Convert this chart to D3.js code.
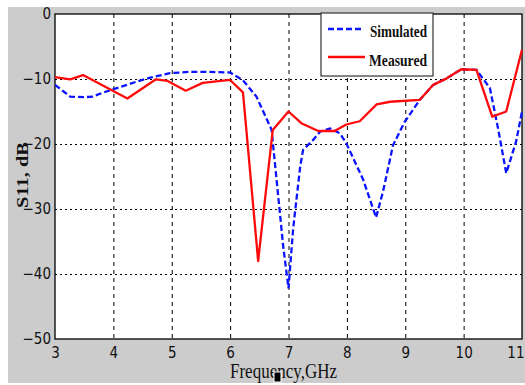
<!DOCTYPE html>
<html><head><meta charset="utf-8">
<script src="https://cdn.jsdelivr.net/npm/d3@7"></script>
<style>body{margin:0;background:#fff}svg{display:block}</style>
</head><body>
<svg id="c" width="525" height="385"></svg>
<script>
const xTicks = [3,4,5,6,7,8,9,10,11];
const yTicks = [0,-10,-20,-30,-40,-50];
const seriesNames = ["Simulated","Measured"];
const freqSim = [3, 3.26, 3.5, 3.65, 3.82, 4.06, 4.4, 4.63, 4.97, 5.31, 5.6, 6.0, 6.22, 6.45, 6.71, 6.91, 7.0, 7.08, 7.2, 7.25, 7.42, 7.54, 7.71, 7.88, 7.99, 8.28, 8.5, 8.62, 8.79, 8.99, 9.25, 9.48, 9.71, 9.96, 10.22, 10.45, 10.59, 10.73, 10.9, 11];
const simulated = [-10.9, -12.7, -12.8, -12.7, -12.1, -11.4, -10.4, -9.8, -9.1, -8.9, -8.9, -9.0, -10.2, -12.7, -17.8, -35.8, -42.2, -33, -23.5, -20.9, -19.4, -18.1, -17.6, -18.35, -19.9, -25.5, -31.3, -27.3, -20.2, -16.6, -13.2, -10.9, -9.9, -8.5, -8.6, -11.4, -17.6, -24.5, -19.6, -15.0];
const freqMeas = [3, 3.26, 3.48, 4.24, 4.73, 4.93, 5.24, 5.53, 6.0, 6.22, 6.48, 6.73, 7.0, 7.22, 7.51, 7.79, 7.99, 8.22, 8.51, 8.74, 9.25, 9.48, 9.71, 9.96, 10.22, 10.49, 10.73, 11];
const measured = [-9.7, -10.05, -9.4, -13.0, -10.05, -10.3, -11.8, -10.6, -10.15, -12.05, -38.0, -17.85, -15.0, -16.8, -18.0, -18.0, -17.0, -16.5, -13.9, -13.5, -13.2, -10.9, -9.9, -8.5, -8.6, -15.8, -15.0, -5.5];

const svg = d3.select("#c");
const L = 55, R = 522, T = 14, B = 339;
const x = d3.scaleLinear().domain([3,11]).range([L,R]);
const y = d3.scaleLinear().domain([-50,0]).range([B,T]);

svg.append("rect").attr("x",8).attr("y",7).attr("width",517).attr("height",376).attr("fill","#cccccc");
svg.append("rect").attr("x",L).attr("y",T).attr("width",R-L).attr("height",B-T).attr("fill","#fff");

// grid
svg.append("g").selectAll("line").data(xTicks.slice(1,-1)).join("line")
  .attr("x1",d=>x(d)+0.5).attr("x2",d=>x(d)+0.5).attr("y1",T).attr("y2",B)
  .attr("stroke","#000").attr("stroke-width",1).attr("stroke-dasharray","4,4");
svg.append("g").selectAll("line").data(yTicks.slice(1,-1)).join("line")
  .attr("y1",d=>y(d)+0.5).attr("y2",d=>y(d)+0.5).attr("x1",L).attr("x2",R)
  .attr("stroke","#000").attr("stroke-width",1).attr("stroke-dasharray","2,3");

// axes
const xa = svg.append("g").attr("transform",`translate(0,${B})`)
  .call(d3.axisBottom(x).tickValues(xTicks).tickSize(0).tickPadding(8).tickFormat(d3.format("d")));
const ya = svg.append("g").attr("transform",`translate(${L},0)`)
  .call(d3.axisLeft(y).tickValues(yTicks).tickSize(0).tickPadding(4).tickFormat(d3.format("d")));
[xa,ya].forEach(g=>{
  g.select(".domain").remove();
  g.selectAll("text").attr("font-family","'Liberation Sans Narrow','DejaVu Sans Condensed',sans-serif")
    .attr("font-size",15).attr("fill","#111");
});
xa.selectAll("text").filter(d=>d===11).attr("text-anchor","end").attr("dx",2);

// frame
svg.append("rect").attr("x",L).attr("y",T).attr("width",R-L).attr("height",B-T)
  .attr("fill","none").attr("stroke","#000").attr("stroke-width",1.3);

svg.append("defs").append("clipPath").attr("id","pc")
  .append("rect").attr("x",L).attr("y",T-2).attr("width",R-L+3).attr("height",B-T+4);

const line = d3.line().x(d=>x(d[0])).y(d=>y(d[1]));
svg.append("path").datum(d3.zip(freqSim,simulated)).attr("d",line)
  .attr("fill","none").attr("stroke","#0a14ff").attr("stroke-width",2.3)
  .attr("stroke-dasharray","6,3").attr("clip-path","url(#pc)");
svg.append("path").datum(d3.zip(freqMeas,measured)).attr("d",line)
  .attr("fill","none").attr("stroke","#ff0a0a").attr("stroke-width",2.3)
  .attr("stroke-linejoin","round").attr("clip-path","url(#pc)");

// legend
const lg = svg.append("g");
lg.append("rect").attr("x",321).attr("y",13).attr("width",112).attr("height",63)
  .attr("fill","#fff").attr("stroke","#333").attr("stroke-width",1.2);
lg.append("line").attr("x1",328).attr("x2",364).attr("y1",29).attr("y2",29)
  .attr("stroke","#0a14ff").attr("stroke-width",2.3).attr("stroke-dasharray","6,3");
lg.append("line").attr("x1",328).attr("x2",365).attr("y1",57).attr("y2",57)
  .attr("stroke","#ff0a0a").attr("stroke-width",2.3);
const lf = "'Liberation Serif','DejaVu Serif',serif";
lg.append("text").attr("x",370).attr("y",37).text(seriesNames[0])
  .attr("font-family",lf).attr("font-size",17).attr("font-weight","bold")
  .attr("textLength",57).attr("lengthAdjust","spacingAndGlyphs").attr("fill","#111");
lg.append("text").attr("x",369).attr("y",66).text(seriesNames[1])
  .attr("font-family",lf).attr("font-size",17).attr("font-weight","bold")
  .attr("textLength",58).attr("lengthAdjust","spacingAndGlyphs").attr("fill","#111");

// titles
svg.append("text").attr("transform","translate(28,175) rotate(-90)").attr("text-anchor","middle")
  .attr("font-family",lf).attr("font-weight","bold")
  .attr("font-size",17).attr("textLength",66).attr("lengthAdjust","spacingAndGlyphs")
  .attr("fill","#111").text("S11, dB");
svg.append("text").attr("x",230).attr("y",378)
  .attr("font-family",lf).attr("font-size",20)
  .attr("textLength",107).attr("lengthAdjust","spacingAndGlyphs").attr("fill","#111").text("Frequency,GHz");
svg.append("rect").attr("x",274).attr("y",372).attr("width",7).attr("height",10)
  .attr("fill","#000").attr("stroke","#fff").attr("stroke-width",1);
</script>
</body></html>
